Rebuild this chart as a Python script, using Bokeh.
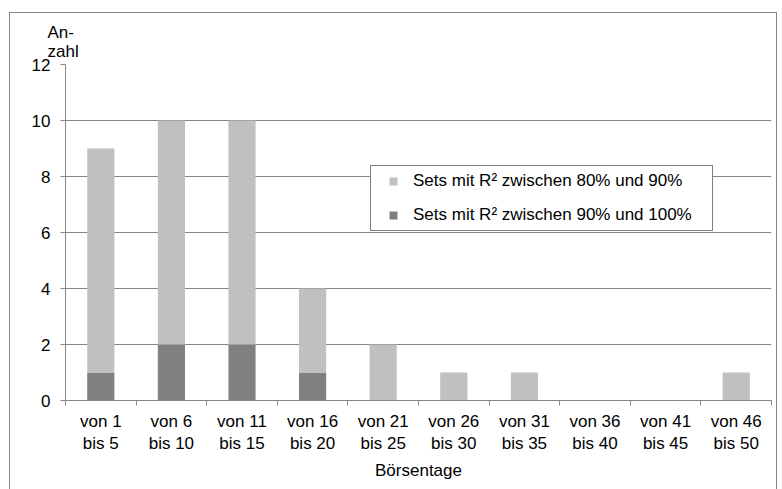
import numpy as np
from bokeh.plotting import figure
from bokeh.models import (ColumnDataSource, FixedTicker, Legend, LegendItem,
                          Title, Range1d)
from bokeh.embed import file_html
from bokeh.resources import INLINE

# Number of sets per holding period (trading days)
categories = ["von 1\nbis 5", "von 6\nbis 10", "von 11\nbis 15", "von 16\nbis 20",
              "von 21\nbis 25", "von 26\nbis 30", "von 31\nbis 35", "von 36\nbis 40",
              "von 41\nbis 45", "von 46\nbis 50"]
r2_90_100 = [1, 2, 2, 1, 0, 0, 0, 0, 0, 0]
r2_80_90 = [8, 8, 8, 3, 2, 1, 1, 0, 0, 1]
y_ticks = [0, 2, 4, 6, 8, 10, 12]

label_80_90 = "Sets mit R² zwischen 80% und 90%"
label_90_100 = "Sets mit R² zwischen 90% und 100%"

FONT = "Liberation Sans"
FS = "17px"
LIGHT = "#c0c0c0"
DARK = "#808080"
GRID = "#868686"

n = len(categories)
centers = np.arange(n) + 0.5

source = ColumnDataSource(dict(x=centers,
                               dark=r2_90_100,
                               light=r2_80_90))

p = figure(width=768, height=477, output_backend="svg", toolbar_location=None,
           x_range=Range1d(0, n), y_range=Range1d(0, 12),
           min_border_left=55, min_border_right=7,
           min_border_top=51, min_border_bottom=90)
p.margin = (12, 0, 0, 9)
p.styles = {"border-left": f"1px solid {GRID}",
            "border-top": f"1px solid {GRID}",
            "border-right": f"1px solid {GRID}"}
p.outline_line_color = None
p.background_fill_color = "white"
p.border_fill_color = "white"

p.vbar_stack(["dark", "light"], x="x", width=0.385, source=source,
             color=[DARK, LIGHT], line_color=None)

# legend swatches: small squares, zero-size in the plot itself
proxy_light = p.scatter(x="x", y="light", source=source, size=0, marker="square",
                        fill_color=LIGHT, line_color=None)
proxy_dark = p.scatter(x="x", y="dark", source=source, size=0, marker="square",
                       fill_color=DARK, line_color=None)

legend = Legend(items=[LegendItem(label=label_80_90, renderers=[proxy_light]),
                       LegendItem(label=label_90_100, renderers=[proxy_dark])],
                location=(305, 169), padding=5, margin=0, spacing=14,
                glyph_width=34, glyph_height=20, label_height=20, label_standoff=3,
                label_width=294,
                label_text_font=FONT, label_text_font_size=FS,
                label_text_color="#000000",
                border_line_color="#000000", border_line_width=1,
                background_fill_color="white", background_fill_alpha=1.0)
p.add_layout(legend, "center")

# x axis: labels in the middle of each class, ticks on the class borders
xa = p.xaxis[0]
xa.ticker = FixedTicker(ticks=list(centers), minor_ticks=list(range(n + 1)))
xa.major_label_overrides = {float(c): lab for c, lab in zip(centers, categories)}
xa.major_tick_out = 0
xa.major_tick_in = 0
xa.minor_tick_out = 5
xa.minor_tick_in = 0
xa.minor_tick_line_color = GRID
xa.axis_line_color = GRID
xa.major_label_text_font = FONT
xa.major_label_text_font_size = FS
xa.major_label_text_color = "#000000"
xa.major_label_standoff = 6
xa.axis_label = "Börsentage"
xa.axis_label_text_font = FONT
xa.axis_label_text_font_size = FS
xa.axis_label_text_font_style = "normal"
xa.axis_label_text_color = "#000000"
xa.axis_label_standoff = 5

ya = p.yaxis[0]
ya.ticker = FixedTicker(ticks=y_ticks)
ya.major_tick_out = 5
ya.major_tick_in = 0
ya.minor_tick_line_color = None
ya.major_tick_line_color = GRID
ya.axis_line_color = GRID
ya.major_label_text_font = FONT
ya.major_label_text_font_size = FS
ya.major_label_text_color = "#000000"
ya.major_label_standoff = 10

p.xgrid.grid_line_color = None
p.ygrid.ticker = FixedTicker(ticks=y_ticks)
p.ygrid.grid_line_color = GRID
p.ygrid.grid_line_width = 1

# y axis caption above the axis
p.title = Title(text="An-\nzahl", align="left", offset=-18, standoff=8,
                text_font=FONT, text_font_size=FS, text_font_style="normal",
                text_color="#000000")

open("out.html", "w").write(file_html(p, INLINE))
